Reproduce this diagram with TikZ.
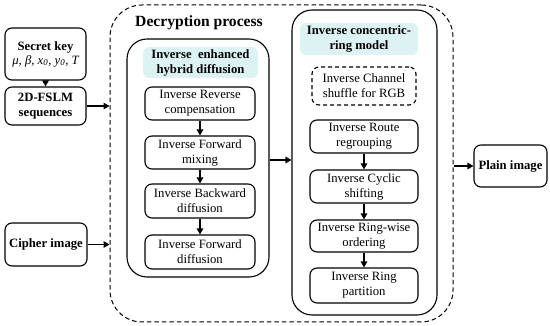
\documentclass[tikz,border=0pt]{standalone}
\usepackage{fontspec}
\setmainfont{Liberation Serif}
\usetikzlibrary{arrows.meta,calc}
\definecolor{tealfill}{RGB}{221,242,242}
\begin{document}
\begin{tikzpicture}[x=1pt,y=-1pt,
  box/.style={draw,line width=1.1pt,rounded corners=7pt,align=center,inner sep=0pt,
    font=\fontsize{12.7}{15}\selectfont},
  bbox/.style={box,font=\fontsize{12.7}{15}\selectfont\bfseries},
  sbox/.style={box,minimum width=110pt,minimum height=33pt},
  rbox/.style={box,minimum width=108pt,minimum height=33pt},
  label/.style={fill=tealfill,rounded corners=6pt,align=center,inner sep=0pt,
    font=\fontsize{12.7}{15}\selectfont\bfseries},
  group/.style={draw,line width=1.1pt,rounded corners=20pt,inner sep=0pt},
  arr/.style={-{Triangle[length=6pt,width=6.5pt]},line width=1.8pt}]
\useasboundingbox (0,0) rectangle (550,326);
% outer dashed region
\node[draw,dashed,dash pattern=on 4.5pt off 3pt,line width=1pt,rounded corners=32pt,
  minimum width=343pt,minimum height=317pt,inner sep=0pt] (outer) at (281.5,163.5) {};
\node[font=\fontsize{15.6}{18}\selectfont\bfseries] (title) at (199,23) {Decryption process};
% left inputs
\node[bbox,minimum width=81pt,minimum height=52pt] (key) at (45.5,54)
  {Secret key\\[-1pt]\mdseries\itshape μ, β, x\textsubscript{0}, y\textsubscript{0}, T};
\node[bbox,minimum width=81pt,minimum height=38pt] (seq) at (45.5,106) {2D-FSLM\\sequences};
\node[bbox,minimum width=82pt,minimum height=43pt] (cipher) at (46,244.5) {Cipher image};
% left group
\node[group,minimum width=142pt,minimum height=238pt] (lg) at (198,158) {};
\node[label,minimum width=115pt,minimum height=31pt] (ll) at (200.5,62.5) {Inverse\ \ enhanced\\hybrid diffusion};
\node[sbox] (l1) at (200,103.5) {Inverse Reverse\\compensation};
\node[sbox] (l2) at (200,152.5) {Inverse Forward\\mixing};
\node[sbox,minimum height=34pt] (l3) at (200,201) {Inverse Backward\\diffusion};
\node[sbox,minimum height=34pt] (l4) at (200,252) {Inverse Forward\\diffusion};
% right group
\node[group,minimum width=145pt,minimum height=305pt] (rg) at (364.5,162.5) {};
\node[label,minimum width=118pt,minimum height=32pt] (rl) at (359,39) {Inverse concentric-\\ring model};
\node[box,dashed,dash pattern=on 4pt off 3pt,minimum width=104pt,minimum height=38pt] (r0) at (364,86) {Inverse Channel\\shuffle for RGB};
\node[rbox] (r1) at (364,136.5) {Inverse Route\\regrouping};
\node[rbox] (r2) at (364,186.5) {Inverse Cyclic\\shifting};
\node[rbox,minimum height=32pt] (r3) at (364,236) {Inverse Ring-wise\\ordering};
\node[rbox,minimum height=35pt] (r4) at (364,285.5) {Inverse Ring\\partition};
% output
\node[bbox,minimum width=73pt,minimum height=42pt] (plain) at (510.5,166) {Plain image};
% arrows
\draw[arr] (key) -- (seq);
\draw[arr] (seq.east) -- (outer.west |- seq.east);
\draw[arr] (cipher.east) -- (outer.west |- cipher.east);
\draw[arr] (l1) -- (l2);
\draw[arr] (l2) -- (l3);
\draw[arr] (l3) -- (l4);
\draw[arr] ($(lg.east)+(0,2)$) -- (rg.west |- {$(lg.east)+(0,2)$});
\draw[arr] (r1) -- (r2);
\draw[arr] (r2) -- (r3);
\draw[arr] (r3) -- (r4);
\draw[arr] (outer.east |- plain.west) -- (plain.west);
\end{tikzpicture}
\end{document}
